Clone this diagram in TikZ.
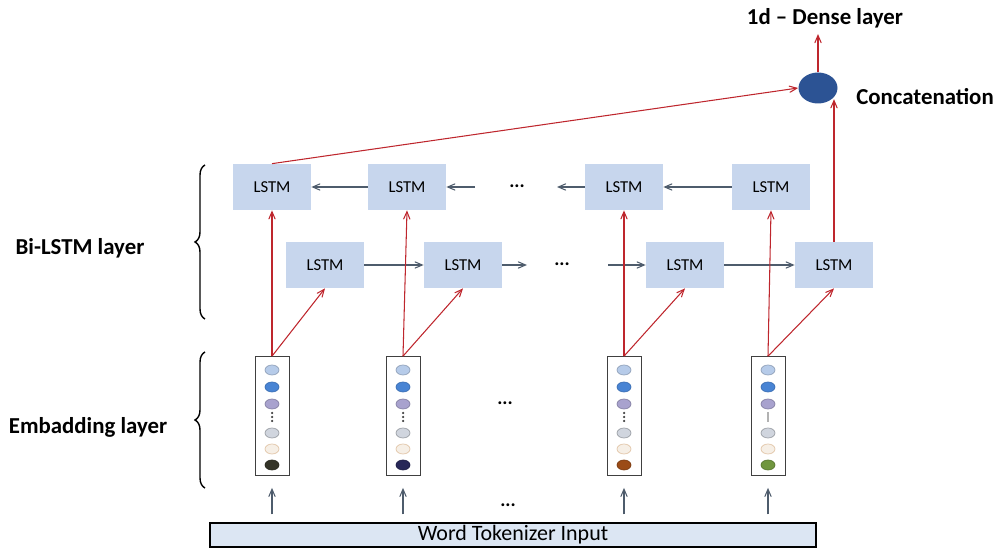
\documentclass[tikz,border=0pt]{standalone}
\usepackage{fontspec}
\setmainfont{Carlito}
\usetikzlibrary{calc, positioning, arrows, shapes, shapes.geometric,
  decorations.pathreplacing}
\definecolor{lstmBlue}{RGB}{199,214,237}
\definecolor{inBlue}{RGB}{220,230,243}
\definecolor{catBlue}{RGB}{44,83,148}
\definecolor{redLine}{RGB}{190,38,45}
\definecolor{greyLine}{RGB}{78,92,108}
\definecolor{vLight}{RGB}{182,203,233}
\definecolor{vBlue}{RGB}{72,132,212}
\definecolor{vLav}{RGB}{168,162,206}
\definecolor{vGrey}{RGB}{208,213,222}
\definecolor{vCream}{RGB}{246,239,230}
\definecolor{vDark}{RGB}{52,52,40}
\definecolor{vNavy}{RGB}{40,40,88}
\definecolor{vBrown}{RGB}{155,75,22}
\definecolor{vGreen}{RGB}{112,150,62}
\tikzstyle{lstm} = [rectangle, fill=lstmBlue, minimum width=1.56cm,
   minimum height=0.92cm, font=\fontsize{9.5}{11}\selectfont]
\tikzstyle{embVec} = [draw=black!75, rectangle, thin, minimum width=0.68cm,
   minimum height=2.38cm]
\tikzstyle{redArrow} = [->, >=angle 45, redLine, semithick]
\tikzstyle{seqArrow} = [->, >=angle 45, greyLine, semithick]
\tikzstyle{layerText} = [font=\bfseries\fontsize{13}{15}\selectfont]
\tikzstyle{dotsText} = [font=\bfseries\fontsize{11}{13}\selectfont]
\tikzstyle{brc} = [decorate, decoration={brace, amplitude=0.2cm}, thick]

\begin{document}
\begin{tikzpicture}[x=0.02cm, y=-0.02cm]
	  \useasboundingbox (0,0) rectangle (998,550);

	  % backward LSTM row
	  \node[lstm] (b1) at (272,187) {LSTM};
	  \node[lstm] (b2) at (407,187) {LSTM};
	  \node[lstm] (b3) at (624,187) {LSTM};
	  \node[lstm] (b4) at (771,187) {LSTM};
	  % forward LSTM row
	  \node[lstm] (f1) at (325,265) {LSTM};
	  \node[lstm] (f2) at (463,265) {LSTM};
	  \node[lstm] (f3) at (685,265) {LSTM};
	  \node[lstm] (f4) at (834,265) {LSTM};
	  \node[dotsText] (d1) at (517,186) {...};
	  \node[dotsText] (d2) at (562,264) {...};

	  % embedding vectors
	  \node[embVec] (e1) at (272,416) {};
	  \node[embVec] (e2) at (403,416) {};
	  \node[embVec] (e3) at (624,416) {};
	  \node[embVec] (e4) at (768,416) {};
	  \node[dotsText] (d3) at (505,403) {...};
	  \foreach \v/\last in {e1/vDark, e2/vNavy, e3/vBrown, e4/vGreen}{
	    \filldraw[fill=vLight, draw=vLight!80!black, thin] ($(\v)+(0,-46)$) ellipse [x radius=0.14cm, y radius=0.1cm];
	    \filldraw[fill=vBlue, draw=vBlue!85!black, thin] ($(\v)+(0,-29)$) ellipse [x radius=0.14cm, y radius=0.1cm];
	    \filldraw[fill=vLav, draw=vLav!80!black, thin] ($(\v)+(0,-12)$) ellipse [x radius=0.14cm, y radius=0.1cm];
	    \filldraw[fill=vGrey, draw=vGrey!75!black, thin] ($(\v)+(0,17)$) ellipse [x radius=0.14cm, y radius=0.1cm];
	    \filldraw[fill=vCream, draw=brown!45, thin] ($(\v)+(0,33)$) ellipse [x radius=0.14cm, y radius=0.1cm];
	    \filldraw[fill=\last, draw=\last!80!black, thin] ($(\v)+(0,49)$) ellipse [x radius=0.14cm, y radius=0.1cm];
	  }
	  \foreach \v in {e1,e2,e3}
	    \foreach \dy in {-3,1,5}
	      \fill[black!75] ($(\v)+(0,\dy)$) circle [radius=0.025cm];
	  \draw[gray!60, thick] ($(e4)+(0,-4)$) -- ($(e4)+(0,6)$);

	  % input and concatenation
	  \node[draw, thick, fill=inBlue, minimum width=12.12cm, minimum height=0.48cm,
	    inner sep=0, font=\fontsize{12.5}{14}\selectfont] (inp) at (513,535) {Word Tokenizer Input};
	  \node[dotsText] (d4) at (508,505) {...};
	  \node[ellipse, fill=catBlue, minimum width=0.78cm, minimum height=0.62cm] (cc) at (818,88) {};
	  \node[layerText] (conc) at (925,97) {Concatenation};
	  \node[layerText] (dense) at (825,18) {1d -- Dense layer};

	  % layer labels
	  \node[layerText] (bil) at (80,248) {Bi-LSTM layer};
	  \node[layerText] (emb) at (88,427) {Embadding layer};
	  \draw[brc] (205,319) -- (205,165);
	  \draw[brc] (205,488) -- (205,352);

	  % free ends of the sequence arrows
	  \coordinate (t1) at (475,187);
	  \coordinate (t2) at (557,187);
	  \coordinate (t3) at (527,265);
	  \coordinate (t4) at (608,265);

	  % sequence arrows
	  \draw[seqArrow] (b2) -- (b1);
	  \draw[seqArrow] (t1) -- (b2);
	  \draw[seqArrow] (b3) -- (t2);
	  \draw[seqArrow] (b4) -- (b3);
	  \draw[seqArrow] (f1) -- (f2);
	  \draw[seqArrow] (f2) -- (t3);
	  \draw[seqArrow] (t4) -- (f3);
	  \draw[seqArrow] (f3) -- (f4);

	  % input to embeddings
	  \foreach \v in {e1,e2,e3,e4}
	    \draw[seqArrow, shorten <=0.16cm, shorten >=0.24cm] (\v.south |- inp.north) -- (\v.south);

	  % embeddings to LSTMs
	  \foreach \v/\b/\f in {e1/b1/f1, e2/b2/f2, e3/b3/f3, e4/b4/f4}{
	    \draw[redArrow] (\v.north) -- (\b.south);
	    \draw[redArrow] (\v.north) -- (\f.south);
	  }

	  % to concatenation and dense
	  \draw[redArrow] (b1.north) -- (cc.west);
	  \draw[redArrow] (f4.north) -- (f4.north |- cc.south east);
	  \draw[redArrow] (cc.north) -- (cc.north |- dense.south);
	\end{tikzpicture}
\end{document}
